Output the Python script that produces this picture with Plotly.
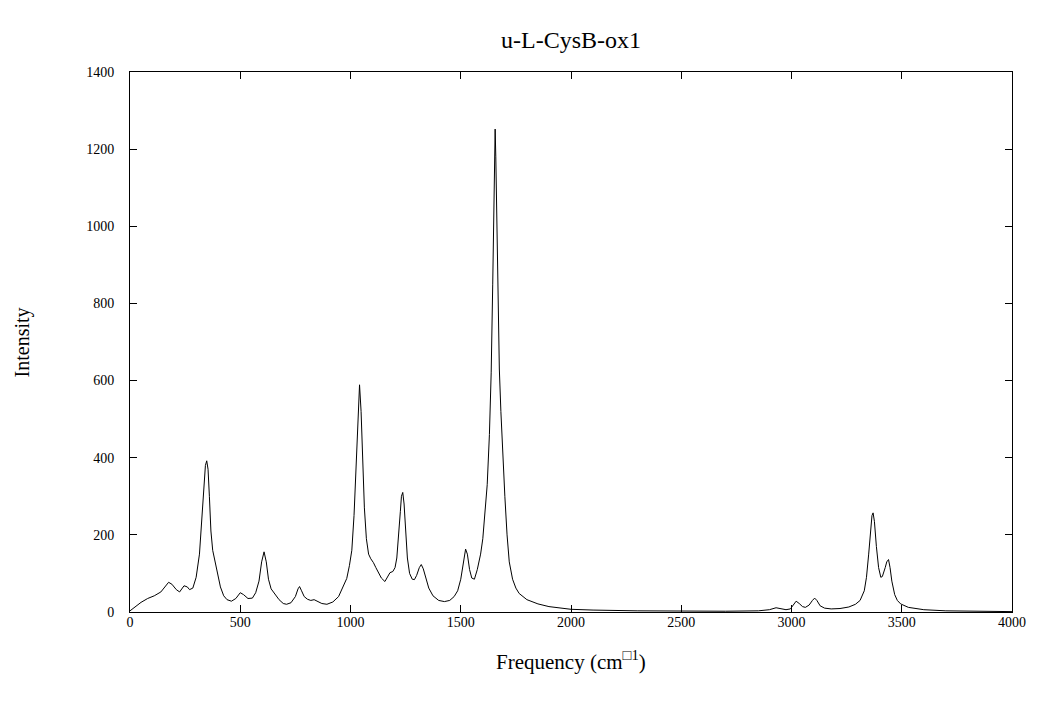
import plotly.graph_objects as go

# spectrum
freq = [0, 20, 50, 80, 110, 140, 160, 175, 190, 210, 225, 245, 260, 270, 285,
        300, 315, 325, 335, 342, 348, 354, 360, 367, 375, 385, 395, 410, 425, 440,
        460, 480, 500, 515, 535, 555, 570, 585, 597, 608, 618, 628, 640, 655, 676,
        695, 710, 730, 750, 762, 769, 778, 790, 805, 820, 835, 850, 870, 893, 920,
        946, 968, 983, 995, 1006, 1016, 1025, 1033, 1041, 1048, 1055, 1063, 1072, 1082, 1092,
        1104, 1115, 1126, 1140, 1156, 1168, 1179, 1192, 1202, 1210, 1218, 1226, 1231, 1237, 1243,
        1250, 1258, 1268, 1280, 1290, 1300, 1312, 1321, 1330, 1342, 1355, 1374, 1400, 1426, 1450,
        1470, 1486, 1500, 1512, 1522, 1530, 1540, 1550, 1562, 1575, 1590, 1600, 1610, 1620, 1630,
        1638, 1645, 1650, 1653, 1656, 1659, 1662, 1668, 1675, 1682, 1690, 1700, 1710, 1720, 1735,
        1750, 1765, 1800, 1850, 1900, 2000, 2100, 2300, 2500, 2700, 2850, 2900, 2930, 2950, 2975,
        2995, 3010, 3021, 3035, 3050, 3063, 3080, 3095, 3105, 3115, 3130, 3150, 3180, 3220, 3260,
        3290, 3311, 3330, 3340, 3350, 3358, 3365, 3370, 3376, 3385, 3395, 3405, 3412, 3425, 3432,
        3440, 3447, 3455, 3468, 3480, 3495, 3530, 3600, 3700, 3800, 4000]
intensity = [3, 12, 25, 35, 42, 52, 65, 77, 72, 58, 52, 68, 65, 58, 62,
             90, 150, 230, 330, 380, 392, 370, 300, 210, 160, 130, 100, 65, 42, 32,
             28, 35, 50, 45, 35, 36, 50, 80, 130, 156, 130, 85, 60, 48, 32,
             22, 20, 24, 40, 60, 66, 55, 40, 33, 30, 32, 28, 22, 20, 26,
             40, 66, 87, 120, 160, 250, 380, 500, 589, 520, 400, 270, 190, 150, 138,
             128, 115, 103, 88, 79, 90, 102, 105, 115, 140, 190, 260, 300, 310, 280,
             200, 140, 100, 85, 84, 95, 115, 123, 112, 85, 62, 42, 30, 27, 30,
             40, 55, 85, 130, 163, 150, 110, 88, 85, 110, 150, 190, 250, 330, 460,
             620, 850, 1050, 1180, 1252, 1180, 1060, 830, 630, 520, 400, 300, 200, 130, 85,
             62, 48, 32, 21, 14, 7, 5, 3, 2, 2, 3, 6, 11, 9, 6,
             8, 20, 28, 22, 14, 12, 18, 30, 36, 30, 16, 10, 8, 9, 13,
             20, 30, 55, 90, 150, 210, 250, 257, 235, 170, 115, 90, 92, 115, 130,
             136, 115, 80, 45, 30, 21, 12, 6, 3, 2, 1]

x_ticks = [0, 500, 1000, 1500, 2000, 2500, 3000, 3500, 4000]
y_ticks = [0, 200, 400, 600, 800, 1000, 1200, 1400]

fig = go.Figure()
fig.add_trace(go.Scatter(x=freq, y=intensity, mode="lines",
                         line=dict(color="black", width=1), showlegend=False))

axis_style = dict(showline=True, linecolor="black", linewidth=1, mirror="ticks",
                  ticks="inside", ticklen=7, tickcolor="black", showgrid=False,
                  zeroline=False, tickfont=dict(size=14, color="black"))

fig.update_xaxes(range=[0, 4000], tickvals=x_ticks, ticklabelstandoff=-3, **axis_style)
fig.update_yaxes(range=[0, 1400], tickvals=y_ticks, ticklabelstandoff=12, **axis_style)

# axis labels placed by hand, like the gnuplot original
fig.add_annotation(text="Frequency (cm<sup>\u25a11</sup>)", xref="paper", yref="paper",
                   x=0.5, y=-0.089, yanchor="middle", showarrow=False,
                   font=dict(size=21, color="black"))
fig.add_annotation(text="Intensity", xref="paper", yref="paper",
                   x=-0.122, y=0.5, xanchor="center", yanchor="middle",
                   textangle=-90, showarrow=False,
                   font=dict(size=20, color="black"))

fig.update_layout(
    width=1030, height=694,
    margin=dict(l=122, r=14, t=64, b=90),
    paper_bgcolor="white", plot_bgcolor="white",
    font=dict(family="Liberation Serif, Times New Roman, serif", color="black"),
    title=dict(text="u-L-CysB-ox1", xref="paper", x=0.5, xanchor="center",
               y=0.955, yanchor="middle", font=dict(size=24, color="black")),
)

fig.write_html("out.html")
